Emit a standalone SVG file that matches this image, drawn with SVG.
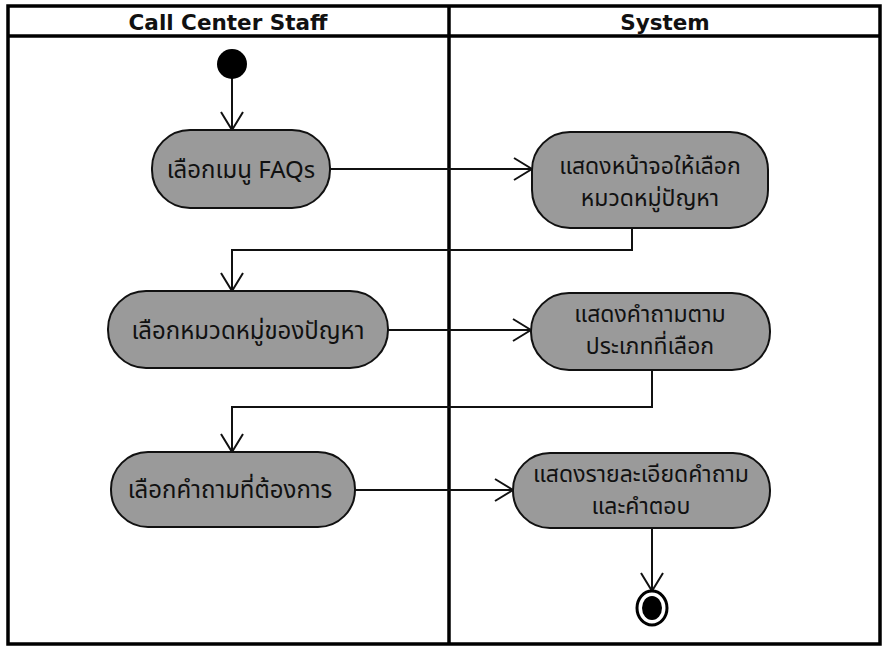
<svg xmlns="http://www.w3.org/2000/svg" width="883" height="648" viewBox="0 0 883 648">
<style>
.frame{fill:none;stroke:#000;stroke-width:3.5}
.node{fill:#9a9a9a;stroke:#111;stroke-width:2}
.lbl{font-family:"Noto Sans Thai","Tahoma","DejaVu Sans","Noto Sans",sans-serif;font-size:24px;fill:#111;text-anchor:middle}
.lbl2{font-family:"Noto Sans Thai","Tahoma","DejaVu Sans","Noto Sans",sans-serif;font-size:23px;fill:#111;text-anchor:middle}
.hdr{font-family:"DejaVu Sans","Liberation Sans",sans-serif;font-weight:bold;font-size:21.5px;fill:#111;text-anchor:middle}
.edge{fill:none;stroke:#111;stroke-width:2}
</style>
<defs>
<marker id="arr" viewBox="0 0 20 24" refX="19" refY="12" markerWidth="20" markerHeight="24" markerUnits="userSpaceOnUse" orient="auto">
<path d="M1,1 L19,12 L1,23" fill="none" stroke="#111" stroke-width="2"/>
</marker>
</defs>
<rect width="883" height="648" fill="#fff"/>
<g id="swimlanes">
<rect class="frame" x="8" y="6" width="872" height="638"/>
<line class="frame" x1="8" y1="36" x2="880" y2="36"/>
<line class="frame" x1="449" y1="6" x2="449" y2="644"/>
<text class="hdr" x="228" y="30">Call Center Staff</text>
<text class="hdr" x="665" y="30">System</text>
</g>
<g id="connectors">
<line class="edge" x1="232" y1="78" x2="232" y2="130" marker-end="url(#arr)"/>
<line class="edge" x1="330" y1="169" x2="532" y2="169" marker-end="url(#arr)"/>
<polyline class="edge" points="632,228 632,250 232,250 232,291" marker-end="url(#arr)"/>
<line class="edge" x1="388" y1="330" x2="531" y2="330" marker-end="url(#arr)"/>
<polyline class="edge" points="652,370 652,407 232,407 232,452" marker-end="url(#arr)"/>
<line class="edge" x1="355" y1="490" x2="513" y2="490" marker-end="url(#arr)"/>
<line class="edge" x1="652" y1="528" x2="652" y2="591" marker-end="url(#arr)"/>
</g>
<g id="start"><circle cx="232" cy="64" r="15" fill="#000"/></g>
<g id="n1"><rect class="node" x="152" y="130" width="178" height="78" rx="38"/><text class="lbl" x="241" y="178">เลือกเมนู FAQs</text></g>
<g id="n2"><rect class="node" x="532" y="132" width="236" height="96" rx="38"/><text class="lbl2" x="650" y="174">แสดงหน้าจอให้เลือก</text><text class="lbl2" x="650" y="206">หมวดหมู่ปัญหา</text></g>
<g id="n3"><rect class="node" x="108" y="291" width="280" height="77" rx="38"/><text class="lbl" x="248" y="339">เลือกหมวดหมู่ของปัญหา</text></g>
<g id="n4"><rect class="node" x="531" y="293" width="239" height="77" rx="38"/><text class="lbl2" x="650" y="322">แสดงคำถามตาม</text><text class="lbl2" x="650" y="354">ประเภทที่เลือก</text></g>
<g id="n5"><rect class="node" x="111" y="452" width="244" height="75" rx="37"/><text class="lbl" x="230" y="498">เลือกคำถามที่ต้องการ</text></g>
<g id="n6"><rect class="node" x="513" y="453" width="257" height="75" rx="37"/><text class="lbl2" x="641" y="482">แสดงรายละเอียดคำถาม</text><text class="lbl2" x="641" y="514">และคำตอบ</text></g>
<g id="end"><ellipse cx="652" cy="608" rx="15" ry="17" fill="#fff" stroke="#000" stroke-width="3"/><ellipse cx="652" cy="608" rx="10" ry="12" fill="#000"/></g>
</svg>
